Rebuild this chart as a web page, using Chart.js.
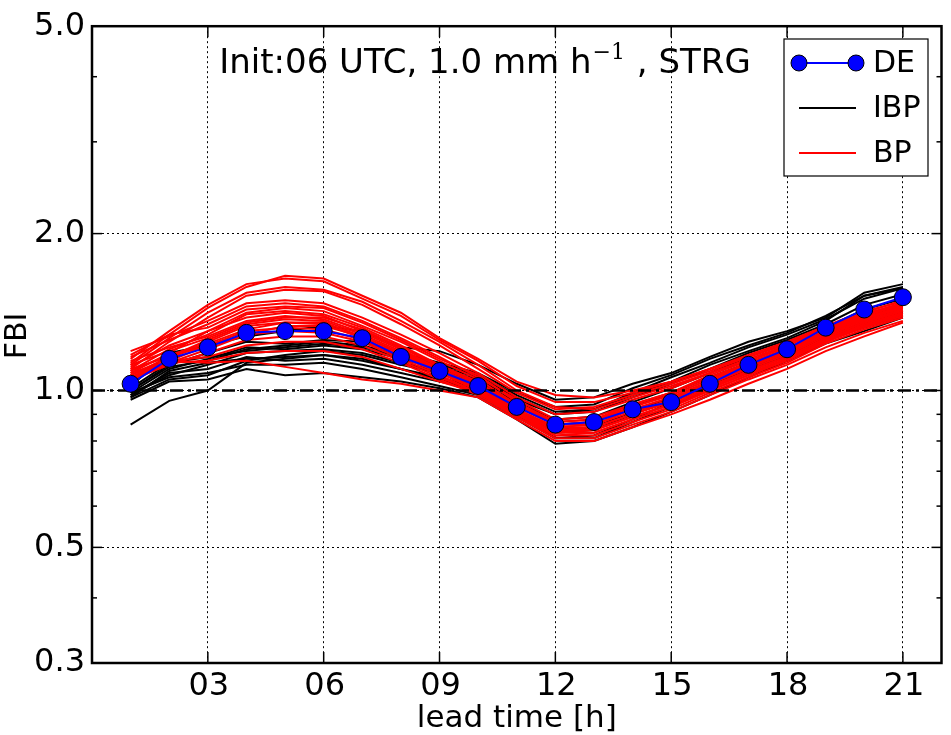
<!DOCTYPE html>
<html>
<head>
<meta charset="utf-8">
<script src="https://cdn.jsdelivr.net/npm/chart.js@4.4.1/dist/chart.umd.min.js"></script>
<style>
  html, body { margin: 0; padding: 0; background: #fff; }
  #wrap { width: 951px; height: 735px; }
</style>
</head>
<body>
<div id="wrap"><canvas id="fbiChart" width="951" height="735"></canvas></div>
<script>
// lead times [h]
const leadTime = [1, 2, 3, 4, 5, 6, 7, 8, 9, 10, 11, 12, 13, 14, 15, 16, 17, 18, 19, 20, 21];

// deterministic run (DE)
const deValues = [1.03, 1.15, 1.21, 1.29, 1.30, 1.30, 1.26, 1.16, 1.09, 1.02, 0.93, 0.86, 0.87, 0.92, 0.95, 1.03, 1.12, 1.20, 1.32, 1.43, 1.51];

// IBP members (black)
const ibpMembers = [
  [1.02, 1.18, 1.22, 1.27, 1.30, 1.33, 1.30, 1.21, 1.19, 1.12, 1.03, 0.96, 0.97, 1.03, 1.08, 1.16, 1.24, 1.30, 1.38, 1.54, 1.60],
  [1.00, 1.12, 1.18, 1.24, 1.23, 1.25, 1.24, 1.18, 1.13, 1.08, 0.99, 0.93, 0.94, 1.01, 1.07, 1.15, 1.22, 1.29, 1.39, 1.52, 1.58],
  [0.99, 1.10, 1.15, 1.21, 1.20, 1.22, 1.20, 1.15, 1.10, 1.05, 0.96, 0.90, 0.92, 0.99, 1.06, 1.13, 1.21, 1.28, 1.37, 1.50, 1.57],
  [0.97, 1.05, 1.07, 1.14, 1.17, 1.19, 1.17, 1.12, 1.08, 1.03, 0.94, 0.86, 0.87, 0.93, 0.99, 1.06, 1.13, 1.20, 1.29, 1.38, 1.46],
  [0.86, 0.955, 1.00, 1.13, 1.15, 1.17, 1.15, 1.10, 1.06, 1.01, 0.92, 0.84, 0.85, 0.91, 0.97, 1.04, 1.11, 1.18, 1.27, 1.35, 1.42],
  [0.98, 1.08, 1.10, 1.16, 1.14, 1.15, 1.12, 1.08, 1.04, 1.00, 0.90, 0.81, 0.81, 0.87, 0.93, 1.01, 1.09, 1.16, 1.25, 1.32, 1.39],
  [0.96, 1.04, 1.05, 1.10, 1.07, 1.08, 1.06, 1.04, 1.01, 0.97, 0.88, 0.79, 0.80, 0.85, 0.91, 0.98, 1.06, 1.14, 1.23, 1.30, 1.38],
  [1.01, 1.13, 1.16, 1.19, 1.21, 1.23, 1.21, 1.16, 1.11, 1.06, 0.97, 0.90, 0.91, 0.97, 1.03, 1.10, 1.18, 1.25, 1.34, 1.46, 1.53],
  [0.98, 1.07, 1.12, 1.18, 1.19, 1.20, 1.18, 1.13, 1.09, 1.04, 0.95, 0.88, 0.89, 0.95, 1.01, 1.08, 1.16, 1.23, 1.32, 1.43, 1.50],
  [0.97, 1.09, 1.13, 1.15, 1.16, 1.17, 1.14, 1.10, 1.05, 1.00, 0.91, 0.83, 0.84, 0.90, 0.96, 1.03, 1.11, 1.19, 1.28, 1.37, 1.44],
  [1.00, 1.11, 1.14, 1.20, 1.22, 1.24, 1.22, 1.17, 1.12, 1.07, 0.98, 0.91, 0.92, 0.98, 1.04, 1.12, 1.19, 1.26, 1.36, 1.52, 1.57],
  [0.99, 1.06, 1.08, 1.12, 1.12, 1.13, 1.10, 1.06, 1.02, 0.98, 0.89, 0.81, 0.82, 0.88, 0.95, 1.02, 1.10, 1.17, 1.26, 1.34, 1.41]
];

// BP members (red)
const bpMembers = [
  [1.17, 1.28, 1.44, 1.58, 1.66, 1.64, 1.52, 1.41, 1.26, 1.15, 1.04, 0.98, 0.97, 1.00, 1.04, 1.10, 1.16, 1.23, 1.32, 1.40, 1.46],
  [1.15, 1.30, 1.46, 1.60, 1.64, 1.62, 1.50, 1.39, 1.25, 1.14, 1.02, 0.95, 0.95, 0.99, 1.04, 1.10, 1.17, 1.24, 1.33, 1.42, 1.48],
  [1.12, 1.26, 1.41, 1.54, 1.58, 1.56, 1.48, 1.36, 1.24, 1.12, 1.00, 0.93, 0.92, 0.97, 1.02, 1.08, 1.14, 1.21, 1.30, 1.38, 1.44],
  [1.10, 1.24, 1.38, 1.52, 1.56, 1.55, 1.46, 1.34, 1.22, 1.10, 0.99, 0.92, 0.93, 0.98, 1.03, 1.09, 1.16, 1.23, 1.32, 1.40, 1.47],
  [1.19, 1.27, 1.36, 1.47, 1.49, 1.47, 1.38, 1.28, 1.18, 1.08, 0.97, 0.90, 0.91, 0.96, 1.01, 1.08, 1.15, 1.22, 1.32, 1.41, 1.49],
  [1.16, 1.25, 1.34, 1.45, 1.47, 1.45, 1.36, 1.26, 1.16, 1.06, 0.96, 0.88, 0.89, 0.94, 0.99, 1.06, 1.13, 1.20, 1.30, 1.40, 1.47],
  [1.13, 1.28, 1.32, 1.43, 1.45, 1.44, 1.35, 1.25, 1.15, 1.07, 0.95, 0.87, 0.88, 0.93, 0.98, 1.05, 1.12, 1.19, 1.29, 1.38, 1.45],
  [1.11, 1.22, 1.30, 1.41, 1.44, 1.42, 1.33, 1.24, 1.14, 1.05, 0.94, 0.86, 0.87, 0.92, 0.97, 1.04, 1.11, 1.18, 1.28, 1.37, 1.44],
  [1.09, 1.20, 1.28, 1.40, 1.42, 1.40, 1.32, 1.22, 1.12, 1.04, 0.93, 0.86, 0.86, 0.91, 0.96, 1.03, 1.10, 1.17, 1.27, 1.36, 1.43],
  [1.08, 1.18, 1.30, 1.38, 1.41, 1.39, 1.30, 1.21, 1.11, 1.03, 0.92, 0.85, 0.85, 0.90, 0.95, 1.02, 1.09, 1.16, 1.26, 1.35, 1.42],
  [1.14, 1.21, 1.27, 1.36, 1.39, 1.37, 1.29, 1.20, 1.10, 1.02, 0.92, 0.84, 0.85, 0.90, 0.96, 1.03, 1.11, 1.18, 1.28, 1.37, 1.45],
  [1.07, 1.16, 1.25, 1.34, 1.37, 1.36, 1.28, 1.19, 1.10, 1.01, 0.91, 0.84, 0.84, 0.89, 0.94, 1.01, 1.08, 1.15, 1.25, 1.34, 1.41],
  [1.06, 1.15, 1.24, 1.33, 1.35, 1.35, 1.27, 1.18, 1.09, 1.00, 0.91, 0.83, 0.83, 0.88, 0.93, 1.00, 1.07, 1.14, 1.24, 1.33, 1.40],
  [1.05, 1.14, 1.22, 1.30, 1.32, 1.31, 1.25, 1.16, 1.08, 1.00, 0.90, 0.83, 0.84, 0.89, 0.94, 1.01, 1.09, 1.16, 1.26, 1.35, 1.42],
  [1.04, 1.13, 1.20, 1.28, 1.30, 1.29, 1.24, 1.15, 1.07, 0.99, 0.89, 0.82, 0.82, 0.87, 0.92, 0.99, 1.06, 1.13, 1.23, 1.31, 1.38],
  [1.05, 1.12, 1.18, 1.25, 1.27, 1.27, 1.22, 1.14, 1.06, 0.99, 0.90, 0.82, 0.83, 0.88, 0.93, 1.00, 1.07, 1.15, 1.25, 1.33, 1.40],
  [1.08, 1.14, 1.16, 1.22, 1.24, 1.24, 1.20, 1.13, 1.05, 0.98, 0.89, 0.81, 0.81, 0.86, 0.91, 0.98, 1.05, 1.12, 1.21, 1.29, 1.36],
  [1.06, 1.13, 1.14, 1.18, 1.19, 1.19, 1.16, 1.10, 1.04, 0.99, 0.90, 0.83, 0.84, 0.89, 0.94, 1.01, 1.08, 1.15, 1.24, 1.32, 1.39],
  [1.07, 1.14, 1.13, 1.14, 1.11, 1.08, 1.05, 1.03, 1.00, 0.97, 0.88, 0.80, 0.80, 0.85, 0.90, 0.96, 1.03, 1.10, 1.19, 1.27, 1.35],
  [1.10, 1.16, 1.22, 1.28, 1.33, 1.33, 1.27, 1.18, 1.10, 1.02, 0.93, 0.86, 0.87, 0.93, 0.98, 1.05, 1.13, 1.20, 1.30, 1.39, 1.46],
  [1.12, 1.19, 1.26, 1.35, 1.38, 1.38, 1.31, 1.21, 1.12, 1.03, 0.94, 0.87, 0.88, 0.94, 0.99, 1.07, 1.14, 1.22, 1.31, 1.40, 1.47],
  [1.09, 1.17, 1.23, 1.31, 1.35, 1.34, 1.26, 1.17, 1.09, 1.01, 0.92, 0.85, 0.86, 0.92, 0.97, 1.04, 1.12, 1.19, 1.29, 1.38, 1.45]
];

// axes
const xRange = [0, 22];
const xTicks = [3, 6, 9, 12, 15, 18, 21];
const yRange = [0.3, 5.0];
const yTicks = [0.3, 0.5, 1.0, 2.0, 5.0];
const yMinorTicks = [0.4, 0.6, 0.7, 0.8, 0.9, 3.0, 4.0];
const refLevel = 1.0;

const titleParts = ['Init:06 UTC, 1.0 mm h', '\u22121', ' , STRG'];
const legendItems = ['DE', 'IBP', 'BP'];
const xLabel = 'lead time [h]';
const yLabel = 'FBI';

const FONT = "'DejaVu Sans', sans-serif";
const frame = { left: 92, right: 944, top: 23, bottom: 663 };

const toPoints = vals => vals.map((v, i) => ({ x: leadTime[i], y: v }));
const fmtHour = v => String(v).padStart(2, '0');

const datasets = [];
datasets.push({
  label: 'DE',
  data: toPoints(deValues),
  borderColor: '#0000ff',
  borderWidth: 2,
  pointRadius: 8.5,
  pointBackgroundColor: '#0000ff',
  pointBorderColor: '#000',
  pointBorderWidth: 1,
  order: 0
});
datasets.push({
  label: 'ref',
  data: [{ x: xRange[0], y: refLevel }, { x: xRange[1], y: refLevel }],
  borderColor: '#000',
  borderWidth: 2.5,
  borderDash: [13, 5, 3, 5],
  pointRadius: 0,
  order: 1
});
bpMembers.forEach(m => datasets.push({
  label: 'BP', data: toPoints(m), borderColor: '#ff0000', borderWidth: 2, pointRadius: 0, order: 2
}));
ibpMembers.forEach(m => datasets.push({
  label: 'IBP', data: toPoints(m), borderColor: '#000', borderWidth: 2, pointRadius: 0, order: 3
}));

function line(ctx, x1, y1, x2, y2) {
  ctx.beginPath();
  ctx.moveTo(x1, y1);
  ctx.lineTo(x2, y2);
  ctx.stroke();
}

const decorations = {
  id: 'decorations',
  afterDraw(chart) {
    const { ctx, chartArea: a, scales: { x, y } } = chart;
    ctx.save();
    ctx.strokeStyle = '#000';
    ctx.lineWidth = 1.5;

    // inward ticks on all four sides
    xTicks.forEach(v => {
      const px = x.getPixelForValue(v);
      line(ctx, px, a.bottom, px, a.bottom - 11);
      line(ctx, px, a.top, px, a.top + 11);
    });
    yTicks.forEach(v => {
      const py = y.getPixelForValue(v);
      line(ctx, a.left, py, a.left + 10, py);
      line(ctx, a.right, py, a.right - 10, py);
    });
    yMinorTicks.forEach(v => {
      const py = y.getPixelForValue(v);
      line(ctx, a.left, py, a.left + 5, py);
      line(ctx, a.right, py, a.right - 5, py);
    });

    // frame
    ctx.lineWidth = 2.5;
    ctx.strokeRect(a.left, a.top, a.right - a.left, a.bottom - a.top);

    // x tick labels and axis titles
    ctx.fillStyle = '#000';
    ctx.textAlign = 'center';
    ctx.textBaseline = 'alphabetic';
    ctx.font = '32px ' + FONT;
    xTicks.forEach(v => ctx.fillText(fmtHour(v), x.getPixelForValue(v) + 1, 695));
    ctx.font = '31px ' + FONT;
    ctx.fillText(xLabel, (a.left + a.right) / 2, 727);
    ctx.save();
    ctx.translate(26, 336);
    ctx.rotate(-Math.PI / 2);
    ctx.font = '30px ' + FONT;
    ctx.fillText(yLabel, 0, 0);
    ctx.restore();

    // in-axes title with superscript
    ctx.textAlign = 'left';
    const bigFont = '34px ' + FONT;
    const supFont = "22px 'DejaVu Serif', serif";
    ctx.font = bigFont;
    const w1 = ctx.measureText(titleParts[0]).width;
    const w3 = ctx.measureText(titleParts[2]).width;
    ctx.font = supFont;
    const w2 = ctx.measureText(titleParts[1]).width;
    let tx = 485 - (w1 + w2 + w3 + 2) / 2;
    const ty = 73;
    ctx.font = bigFont;
    ctx.fillText(titleParts[0], tx, ty);
    tx += w1 + 1;
    ctx.font = supFont;
    ctx.fillText(titleParts[1], tx, ty - 14);
    tx += w2 + 1;
    ctx.font = bigFont;
    ctx.fillText(titleParts[2], tx, ty);

    // legend box
    const lx = 784, ly = 39, lw = 144, lh = 137;
    ctx.fillStyle = '#fff';
    ctx.fillRect(lx, ly, lw, lh);
    ctx.lineWidth = 1.2;
    ctx.strokeStyle = '#000';
    ctx.strokeRect(lx, ly, lw, lh);
    const rows = [63, 108, 153];
    const colors = ['#0000ff', '#000', '#ff0000'];
    ctx.font = '30px ' + FONT;
    ctx.textBaseline = 'middle';
    legendItems.forEach((name, i) => {
      ctx.strokeStyle = colors[i];
      ctx.lineWidth = 2;
      line(ctx, 799, rows[i], 856, rows[i]);
      if (i === 0) {
        [799, 856].forEach(cx => {
          ctx.beginPath();
          ctx.arc(cx, rows[i], 8, 0, Math.PI * 2);
          ctx.fillStyle = '#0000ff';
          ctx.fill();
          ctx.lineWidth = 1;
          ctx.strokeStyle = '#000';
          ctx.stroke();
        });
      }
      ctx.fillStyle = '#000';
      ctx.fillText(name, 873, rows[i] + 1);
    });
    ctx.restore();
  }
};

new Chart(document.getElementById('fbiChart').getContext('2d'), {
  type: 'line',
  data: { datasets },
  options: {
    responsive: false,
    animation: false,
    devicePixelRatio: 1,
    layout: { padding: { top: frame.top, right: 951 - frame.right, left: 0, bottom: 0 } },
    plugins: { legend: { display: false }, tooltip: { enabled: false } },
    elements: { line: { tension: 0 } },
    scales: {
      x: {
        type: 'linear',
        min: xRange[0],
        max: xRange[1],
        afterBuildTicks: s => { s.ticks = xTicks.map(v => ({ value: v })); },
        afterFit: s => { s.height = 735 - frame.bottom; },
        ticks: { display: false },
        grid: { color: '#000', lineWidth: 1, drawTicks: false },
        border: { display: false, dash: [2, 3] }
      },
      y: {
        type: 'logarithmic',
        min: yRange[0],
        max: yRange[1],
        afterBuildTicks: s => { s.ticks = yTicks.map(v => ({ value: v })); },
        afterFit: s => { s.width = frame.left; },
        ticks: {
          callback: v => Number(v).toFixed(1),
          font: { family: FONT, size: 32 },
          color: '#000',
          padding: 7
        },
        grid: { color: '#000', lineWidth: 1, drawTicks: false },
        border: { display: false, dash: [2, 3] }
      }
    }
  },
  plugins: [decorations]
});
</script>
</body>
</html>
